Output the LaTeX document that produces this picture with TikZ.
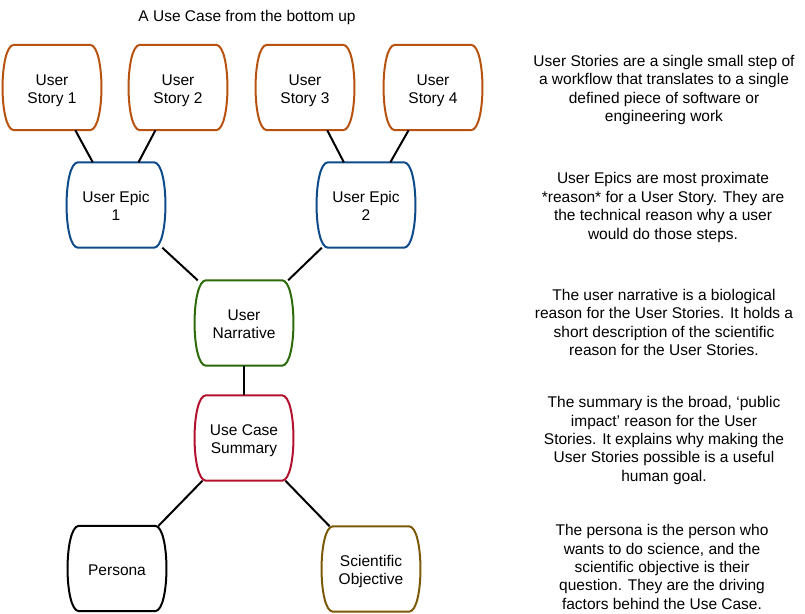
\documentclass[tikz,border=0pt]{standalone}
\usepackage{fontspec}
\setmainfont{Liberation Sans}
\usetikzlibrary{calc}
\definecolor{storyc}{HTML}{B85210}
\definecolor{epicc}{HTML}{0E4B8A}
\definecolor{narrc}{HTML}{2D6A0A}
\definecolor{summc}{HTML}{B3122E}
\definecolor{scic}{HTML}{7A5A08}
\newcommand{\tp}{\rule{0pt}{16.5pt}}
\newcommand{\bt}{\rule[-3.3pt]{0pt}{3.3pt}}
\tikzset{
  box/.style={minimum width=100pt, minimum height=85pt, inner sep=0pt, align=center,
    font=\fontsize{15.5}{18}\selectfont},
  desc/.style={align=center, font=\fontsize{15.5}{18.4}\selectfont, inner sep=0pt},
  link/.style={line width=2pt, black}
}
\newcommand{\bulgebox}[2]{\draw[#2, line width=2pt, line join=round]
  ($(#1.north west)+(12,0)$) -- ($(#1.north east)+(-12,0)$)
  .. controls ($(#1.north east)+(3,1)$) and ($(#1.south east)+(3,-1)$) .. ($(#1.south east)+(-12,0)$)
  -- ($(#1.south west)+(12,0)$)
  .. controls ($(#1.south west)+(-3,-1)$) and ($(#1.north west)+(-3,1)$) .. cycle;}
\begin{document}
\begin{tikzpicture}[x=1pt,y=-1pt]
\useasboundingbox (0,0) rectangle (805,613);
\node[desc] (title) at (247,17) {A Use Case from the bottom up};
\node[box] (us1) at (52,87.5) {\tp User\\Story 1\bt};
\node[box] (us2) at (178,87.5) {\tp User\\Story 2\bt};
\node[box] (us3) at (305,87.5) {\tp User\\Story 3\bt};
\node[box] (us4) at (433,87.5) {\tp User\\Story 4\bt};
\node[box] (ep1) at (116,205) {\tp User Epic\\1\bt};
\node[box] (ep2) at (366,205) {\tp User Epic\\2\bt};
\node[box] (nar) at (244,323) {\tp User\\Narrative\bt};
\node[box] (sum) at (244,438) {\tp Use Case\\Summary\bt};
\node[box] (per) at (117,568.5) {\tp Persona\bt};
\node[box] (sci) at (371,569) {\tp Scientific\\Objective\bt};
\foreach \n in {us1,us2,us3,us4} {\bulgebox{\n}{storyc}}
\foreach \n in {ep1,ep2} {\bulgebox{\n}{epicc}}
\bulgebox{nar}{narrc}
\bulgebox{sum}{summc}
\bulgebox{per}{black}
\bulgebox{sci}{scic}
\draw[link] (us1) -- (ep1);
\draw[link] (us2) -- (ep1);
\draw[link] (us3) -- (ep2);
\draw[link] (us4) -- (ep2);
\draw[link] (ep1) -- (nar);
\draw[link] (ep2) -- (nar);
\draw[link] (nar) -- (sum);
\draw[link] (sum) -- (per);
\draw[link] (sum) -- (sci);
\node[desc] (d1) at (664,90) {User Stories are a single small step of\\a workflow that translates to a single\\defined piece of software or\\engineering work};
\node[desc] (d2) at (663,207.5) {User Epics are most proximate\\*reason* for a User Story. They are\\the technical reason why a user\\would do those steps.};
\node[desc] (d3) at (664,322.5) {The user narrative is a biological\\reason for the User Stories. It holds a\\short description of the scientific\\reason for the User Stories.};
\node[desc] (d4) at (664,440.5) {The summary is the broad, ‘public\\impact’ reason for the User\\Stories. It explains why making the\\User Stories possible is a useful\\human goal.};
\node[desc] (d5) at (662,567) {The persona is the person who\\wants to do science, and the\\scientific objective is their\\question. They are the driving\\factors behind the Use Case.};
\end{tikzpicture}
\end{document}
